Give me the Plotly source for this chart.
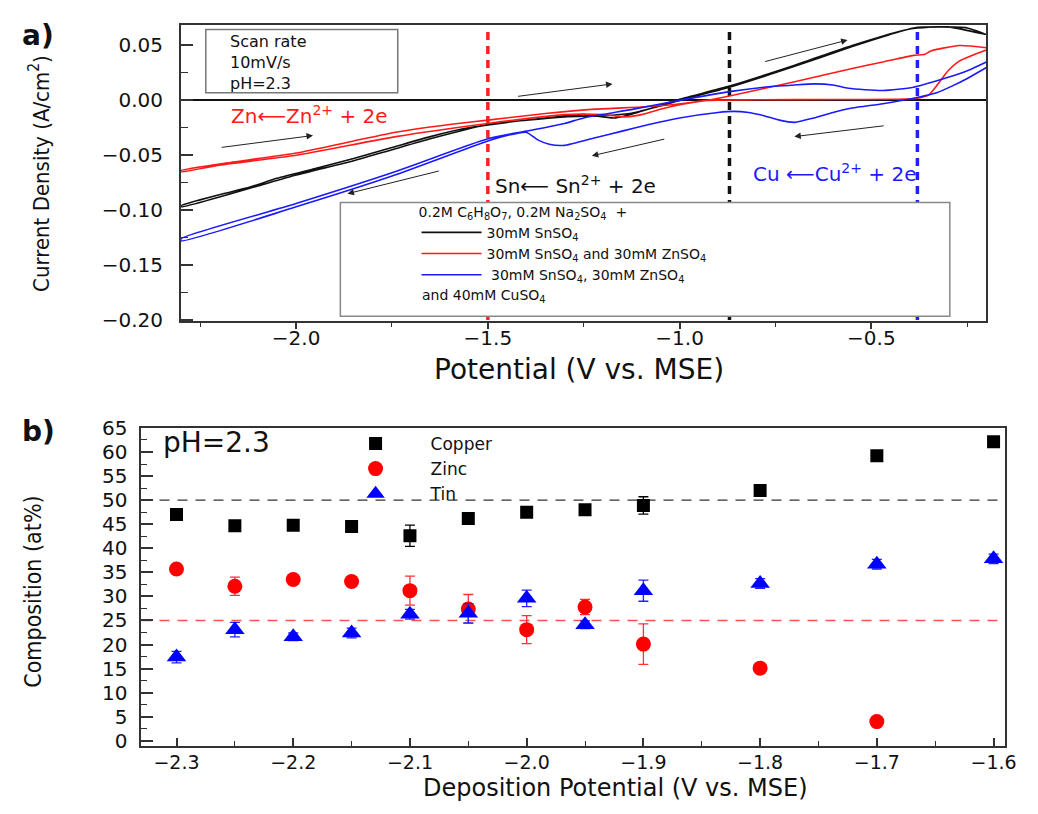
import plotly.graph_objects as go

W, H = 1038, 814

# ---------------- Panel a) cyclic voltammetry (A/cm^2 vs V) ----------------
sn_cath_x = [-0.20, -0.25, -0.32, -0.39, -0.47, -0.55, -0.70, -0.87, -1.00, -1.06, -1.13, -1.20,
             -1.30, -1.40, -1.50, -1.65, -1.75, -1.85, -2.00, -2.10, -2.20, -2.30]
sn_cath_y = [0.060, 0.066, 0.067, 0.066, 0.058, 0.049, 0.031, 0.012, 0.000, -0.006, -0.012, -0.014,
             -0.015, -0.018, -0.022, -0.035, -0.045, -0.055, -0.068, -0.078, -0.088, -0.097]
sn_anod_x = [-2.30, -2.20, -2.12, -2.05, -1.95, -1.85, -1.75, -1.65, -1.55, -1.45, -1.35, -1.25,
             -1.17, -1.10, -1.00, -0.87, -0.70, -0.55, -0.40, -0.30, -0.20]
sn_anod_y = [-0.096, -0.086, -0.079, -0.071, -0.062, -0.053, -0.043, -0.033, -0.025, -0.020, -0.016, -0.013,
             -0.016, -0.010, 0.001, 0.013, 0.032, 0.050, 0.065, 0.067, 0.060]

snzn_cath_x = [-0.20, -0.27, -0.30, -0.35, -0.38, -0.45, -0.60, -0.80, -0.93, -1.00, -1.05, -1.10,
               -1.14, -1.20, -1.30, -1.50, -1.74, -2.00, -2.20, -2.30]
snzn_cath_y = [0.046, 0.036, 0.027, 0.005, 0.002, 0.001, 0.0008, 0.0005, 0.000, -0.004, -0.008, -0.013,
               -0.015, -0.013, -0.013, -0.021, -0.033, -0.050, -0.059, -0.065]
snzn_anod_x = [-2.30, -2.20, -2.00, -1.85, -1.74, -1.60, -1.50, -1.35, -1.22, -1.10, -1.02, -0.93,
               -0.87, -0.70, -0.55, -0.47, -0.39, -0.36, -0.345, -0.27, -0.20]
snzn_anod_y = [-0.064, -0.058, -0.048, -0.037, -0.029, -0.022, -0.018, -0.012, -0.008, -0.006, -0.004, 0.000,
               0.004, 0.017, 0.029, 0.035, 0.041, 0.042, 0.045, 0.050, 0.048]

snzncu_cath_x = [-0.20, -0.25, -0.29, -0.33, -0.39, -0.47, -0.55, -0.60, -0.65, -0.70, -0.74, -0.78,
                 -0.82, -0.86, -0.90, -1.00, -1.08, -1.15, -1.22, -1.30, -1.34, -1.37, -1.40, -1.45,
                 -1.50, -1.75, -2.00, -2.30]
snzncu_cath_y = [0.030, 0.020, 0.013, 0.007, 0.002, -0.003, -0.007, -0.011, -0.016, -0.020, -0.018, -0.014,
                 -0.011, -0.010, -0.011, -0.016, -0.022, -0.028, -0.034, -0.041, -0.040, -0.036, -0.029, -0.032,
                 -0.037, -0.069, -0.097, -0.128]
snzncu_anod_x = [-2.30, -2.00, -1.75, -1.50, -1.40, -1.30, -1.25, -1.12, -1.00, -0.87, -0.78, -0.70,
                 -0.65, -0.60, -0.56, -0.47, -0.39, -0.30, -0.25, -0.20]
snzncu_anod_y = [-0.126, -0.094, -0.066, -0.035, -0.028, -0.021, -0.016, -0.008, 0.000, 0.008, 0.012, 0.014,
                 0.015, 0.014, 0.011, 0.009, 0.012, 0.021, 0.027, 0.035]

cv_names = ["30mM SnSO<sub>4</sub>",
            "30mM SnSO<sub>4</sub> and 30mM ZnSO<sub>4</sub>",
            " 30mM SnSO<sub>4</sub>, 30mM ZnSO<sub>4</sub>"]
cv_colors = ["#111111", "#ff1a1a", "#1a1aff"]

ref_potentials = [-1.5, -0.87, -0.38]          # Zn, Sn, Cu reduction markers
ref_colors = ["#ff2020", "#111111", "#2020ff"]

# arrows showing scan direction (tail -> head, data coords)
arrow_tail_x = [-2.198, -1.624, -1.425, -1.036, -0.781, -0.464]
arrow_tail_y = [-0.043, -0.064, 0.0035, -0.035, 0.035, -0.023]
arrow_head_x = [-1.956, -1.866, -1.175, -1.229, -0.562, -0.701]
arrow_head_y = [-0.032, -0.085, 0.015, -0.0505, 0.055, -0.033]

# ---------------- Panel b) composition ----------------
potentials = [-2.3, -2.25, -2.2, -2.15, -2.1, -2.05, -2.0, -1.95, -1.9, -1.8, -1.7, -1.6]
copper = [47.0, 44.7, 44.8, 44.5, 42.6, 46.2, 47.5, 48.0, 48.9, 52.0, 59.2, 62.1]
copper_err = [0.4, 0.5, 0.5, 0.5, 2.2, 0.6, 1.0, 0.5, 1.8, 0.5, 0.5, 0.5]
zinc_potentials = [-2.3, -2.25, -2.2, -2.15, -2.1, -2.05, -2.0, -1.95, -1.9, -1.8, -1.7]
zinc = [35.7, 32.1, 33.5, 33.1, 31.2, 27.4, 23.1, 27.8, 20.1, 15.1, 4.0]
zinc_err = [0.5, 1.9, 1.0, 0.5, 3.0, 3.0, 2.9, 1.6, 4.2, 0.4, 0.4]
tin = [17.4, 23.1, 21.6, 22.4, 26.3, 26.5, 29.6, 24.1, 31.2, 32.7, 36.7, 37.8]
tin_err = [1.2, 1.5, 0.8, 1.0, 1.0, 2.0, 1.7, 0.8, 2.2, 1.0, 1.0, 1.0]
stoich_levels = [50, 25]
stoich_colors = ["#333333", "#ff5050"]

SANS = "DejaVu Sans, Arial, sans-serif"
NARROW = "Liberation Sans Narrow, DejaVu Sans Condensed, Arial Narrow, sans-serif"


def px(x):
    return x / W


def py(y):
    return 1 - y / H


fig = go.Figure()

# vertical dashed reference lines (top panel)
for v, c in zip(ref_potentials, ref_colors):
    fig.add_trace(go.Scatter(x=[v, v], y=[-0.2, 0.064], mode="lines",
                             line=dict(color=c, width=3.5, dash="8px,6px"),
                             showlegend=False, hoverinfo="skip", xaxis="x", yaxis="y"))

cv_sets = [(sn_cath_x + sn_anod_x, sn_cath_y + sn_anod_y),
           (snzn_cath_x + snzn_anod_x, snzn_cath_y + snzn_anod_y),
           (snzncu_cath_x + snzncu_anod_x, snzncu_cath_y + snzncu_anod_y)]
for (xs, ys), name, col in zip(cv_sets, cv_names, cv_colors):
    fig.add_trace(go.Scatter(x=xs, y=ys, mode="lines", name=name,
                             line=dict(color=col, width=1.6, shape="spline", smoothing=0.6),
                             xaxis="x", yaxis="y", legend="legend"))

# horizontal stoichiometry lines (bottom panel)
for lv, c in zip(stoich_levels, stoich_colors):
    fig.add_trace(go.Scatter(x=[-2.33, -1.59], y=[lv, lv], mode="lines",
                             line=dict(color=c, width=1.3, dash="10px,8px"),
                             showlegend=False, hoverinfo="skip", xaxis="x2", yaxis="y2"))

fig.add_trace(go.Scatter(x=potentials, y=copper, mode="markers", name="Copper",
                         marker=dict(symbol="square", size=13, color="#000000"),
                         error_y=dict(type="data", array=copper_err, color="#000000", thickness=1.3, width=5),
                         xaxis="x2", yaxis="y2", legend="legend2"))
fig.add_trace(go.Scatter(x=zinc_potentials, y=zinc, mode="markers", name="Zinc",
                         marker=dict(symbol="circle", size=15, color="#ff0000"),
                         error_y=dict(type="data", array=zinc_err, color="#ff3030", thickness=1.3, width=5),
                         xaxis="x2", yaxis="y2", legend="legend2"))
fig.add_trace(go.Scatter(x=potentials, y=tin, mode="markers", name="Tin",
                         marker=dict(symbol="triangle-up", size=17, color="#0000ff"),
                         error_y=dict(type="data", array=tin_err, color="#2020ff", thickness=1.3, width=5),
                         xaxis="x2", yaxis="y2", legend="legend2"))

axis_common = dict(showline=True, mirror=True, linecolor="#333333", linewidth=2,
                   showgrid=False, tickcolor="#333333", tickwidth=1.5)
tickfont_big = dict(family=SANS, size=20, color="#111111")

annotations = []


def ann(text, x, y, size, color="#111111", xanchor="left", family=SANS, **kw):
    annotations.append(dict(text=text, x=px(x), y=py(y), xref="paper", yref="paper",
                            xanchor=xanchor, yanchor="middle", showarrow=False,
                            font=dict(family=family, size=size, color=color), **kw))


ann("<b>a)</b>", 20, 24, 28)
ann("<b>b)</b>", 20, 432, 28)
ann("Scan rate<br>10mV/s<br>pH=2.3", 230, 52, 16, align="left")
ann("Zn⟵Zn<sup>2+</sup> + 2e", 231, 106, 20, color="#ff1a1a")
ann("Sn⟵ Sn<sup>2+</sup> + 2e", 498, 178, 20)
ann("Cu ⟵Cu<sup>2+</sup> + 2e", 759, 166, 20, color="#1a1aff")
ann("and 40mM CuSO<sub>4</sub>", 424, 292, 14)
ann("pH=2.3", 163, 443, 28)
ann("Current Density (A/cm<sup>2</sup>)", 40, 166, 22, xanchor="center", family=NARROW, textangle=-90)
ann("Potential (V vs. MSE)", 585, 368, 28, xanchor="center")
ann("Composition (at%)", 33, 597, 23, xanchor="center", family=NARROW, textangle=-90)
ann("Deposition Potential (V vs. MSE)", 622, 799, 24, xanchor="center")

for tx, ty, hx, hy in zip(arrow_tail_x, arrow_tail_y, arrow_head_x, arrow_head_y):
    annotations.append(dict(x=hx, y=hy, ax=tx, ay=ty, xref="x", yref="y", axref="x", ayref="y",
                            text="", showarrow=True, arrowhead=2, arrowsize=1.3, arrowwidth=1,
                            arrowcolor="#222222"))

shapes = [
    dict(type="rect", xref="paper", yref="paper", x0=px(208), x1=px(402), y0=py(83), y1=py(18),
         line=dict(color="#777777", width=1.5), layer="above"),
    dict(type="rect", xref="paper", yref="paper", x0=px(344), x1=px(960), y0=py(313), y1=py(196),
         line=dict(color="#888888", width=1.5), fillcolor="white", layer="above"),
]

fig.update_layout(
    width=W, height=H, autosize=False,
    margin=dict(l=0, r=0, t=0, b=0),
    paper_bgcolor="white", plot_bgcolor="white",
    xaxis=dict(domain=[px(183), px(997)], range=[-2.3, -0.2], anchor="y",
               tickvals=[-2.0, -1.5, -1.0, -0.5], tickformat=".1f",
               ticks="outside", ticklen=6, ticklabelstandoff=-8,
               tickfont=tickfont_big,
               minor=dict(tickvals=[-2.25, -1.75, -1.25, -0.75, -0.25], ticks="outside", ticklen=4,
                          tickcolor="#333333", tickwidth=1.2),
               zeroline=False, **axis_common),
    yaxis=dict(domain=[py(318), py(13)], range=[-0.201, 0.069], anchor="x",
               tick0=0, dtick=0.05, tickformat=".2f", ticks="inside", ticklen=12,
               ticklabelstandoff=12, tickfont=tickfont_big,
               minor=dict(dtick=0.025, ticks="inside", ticklen=7, tickcolor="#333333", tickwidth=1.2),
               zeroline=True, zerolinecolor="#111111", zerolinewidth=1.6, **axis_common),
    xaxis2=dict(domain=[px(143), px(1016)], range=[-2.33, -1.59], anchor="y2",
                tickvals=[-2.3, -2.2, -2.1, -2.0, -1.9, -1.8, -1.7, -1.6], tickformat=".1f",
                ticks="inside", ticklen=8, ticklabelstandoff=-1,
                tickfont=dict(family=SANS, size=19, color="#111111"),
                minor=dict(tickvals=[-2.25, -2.15, -2.05, -1.95, -1.85, -1.75, -1.65], ticks="inside",
                           ticklen=5, tickcolor="#333333", tickwidth=1.2),
                zeroline=False, **axis_common),
    yaxis2=dict(domain=[py(755), py(428)], range=[-1, 65], anchor="x2",
                tick0=0, dtick=5, ticks="inside", ticklen=12, ticklabelstandoff=8,
                tickfont=tickfont_big,
                minor=dict(dtick=2.5, ticks="inside", ticklen=6, tickcolor="#333333", tickwidth=1.2),
                zeroline=False, **axis_common),
    legend=dict(x=px(421), y=py(192), xanchor="left", yanchor="top",
                bgcolor="rgba(0,0,0,0)", borderwidth=0, itemwidth=60, tracegroupgap=0,
                font=dict(family=SANS, size=14, color="#111111"),
                title=dict(text="0.2M C<sub>6</sub>H<sub>8</sub>O<sub>7</sub>, 0.2M Na<sub>2</sub>SO<sub>4</sub>  +",
                           font=dict(family=SANS, size=14, color="#111111"))),
    legend2=dict(x=px(324), y=py(426), xanchor="left", yanchor="top",
                 bgcolor="rgba(0,0,0,0)", borderwidth=0, tracegroupgap=0,
                 itemwidth=100,
                 font=dict(family=SANS, size=17, color="#111111")),
    annotations=annotations,
    shapes=shapes,
)

fig.write_html("out.html")
